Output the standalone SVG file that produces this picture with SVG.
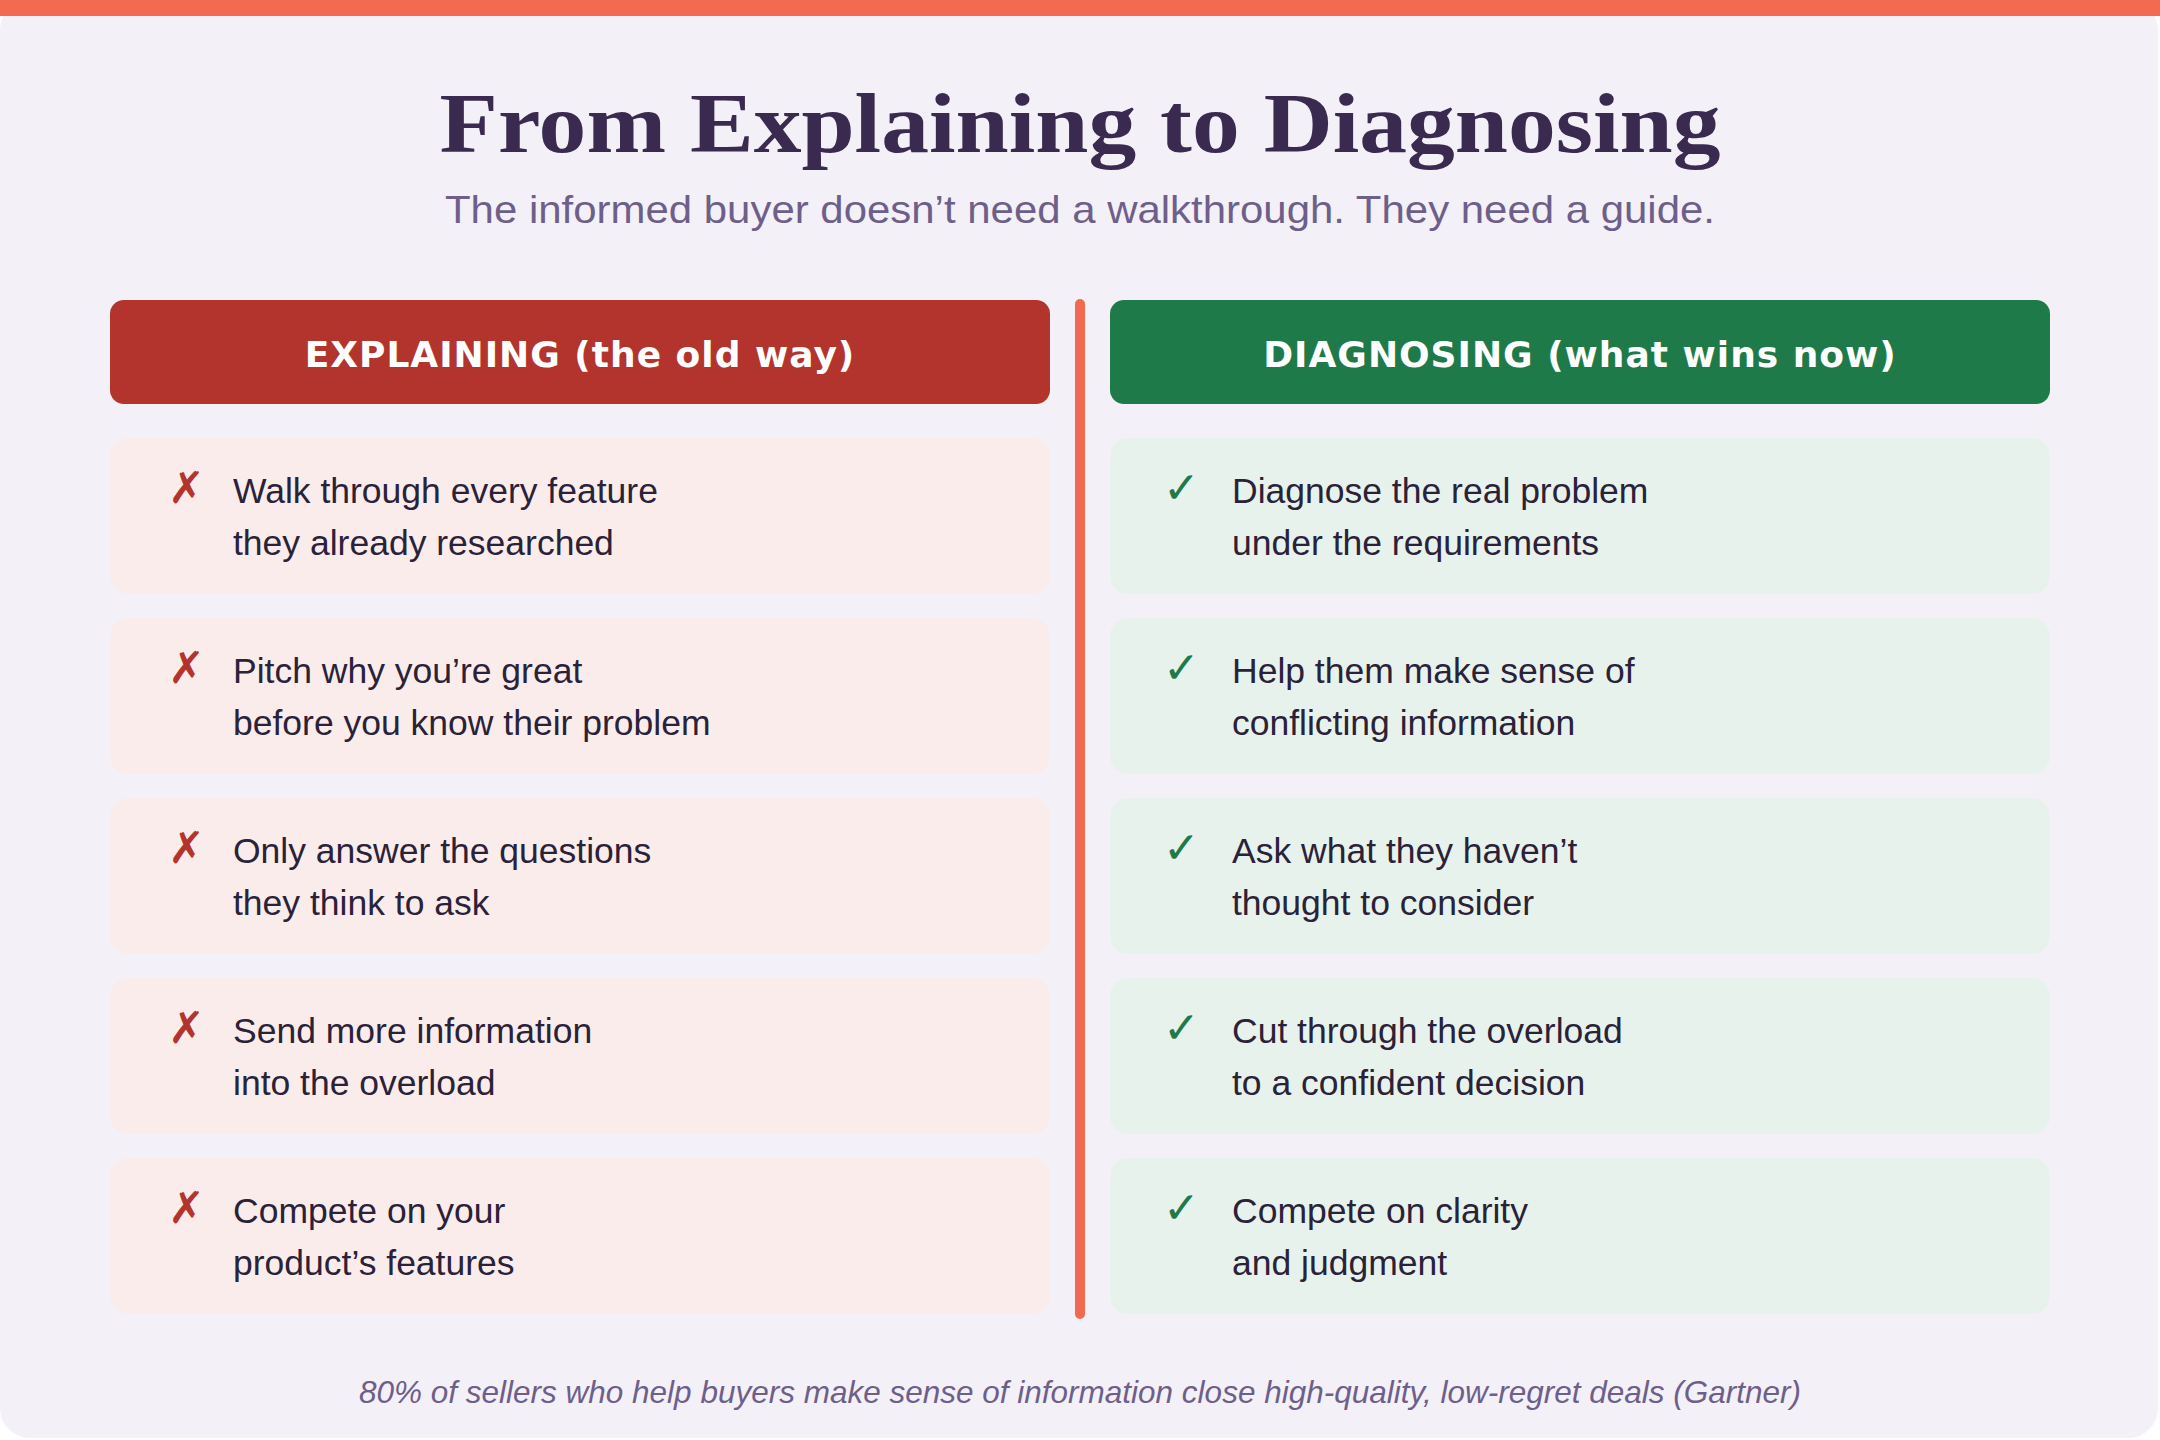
<svg xmlns="http://www.w3.org/2000/svg" width="2160" height="1440" viewBox="0 0 2160 1440">
<style>
.t{font-family:"Liberation Sans",Arial,sans-serif;font-size:35.5px;fill:#2a2238}
.h{font-family:"DejaVu Sans","Liberation Sans",sans-serif;font-size:36px;font-weight:bold;fill:#fff;letter-spacing:1px;text-anchor:middle}
.x{font-family:"Noto Sans","DejaVu Sans",sans-serif;font-size:44px;fill:#b3342d}
.c{font-family:"DejaVu Sans",sans-serif;font-size:44px;fill:#1e7a48;font-weight:bold}
.l{fill:#fbecec}.r{fill:#e8f2ec}
</style>
<rect width="2160" height="1440" fill="#ffffff"/>
<rect x="0" y="0" width="2158" height="1438" rx="30" fill="#f3f0f7"/>
<rect x="0" y="0" width="2160" height="16" fill="#f26b50"/>
<text x="1080" y="152" text-anchor="middle" font-family="Liberation Serif,serif" font-weight="bold" font-size="84" fill="#3a2a50" textLength="1281" lengthAdjust="spacingAndGlyphs">From Explaining to Diagnosing</text>
<text x="1080" y="223" text-anchor="middle" font-family="Liberation Sans,sans-serif" font-size="39" fill="#6e5f8a" textLength="1270" lengthAdjust="spacingAndGlyphs">The informed buyer doesn’t need a walkthrough. They need a guide.</text>
<g id="hdr-left"><rect x="110" y="300" width="940" height="104" rx="14" fill="#b3342d"/><text class="h" x="580" y="367">EXPLAINING (the old way)</text></g>
<g id="hdr-right"><rect x="1110" y="300" width="940" height="104" rx="14" fill="#1e7a48"/><text class="h" x="1580" y="367">DIAGNOSING (what wins now)</text></g>
<g id="connectors"><line x1="1080" y1="304" x2="1080" y2="1314" stroke="#f26b50" stroke-width="10" stroke-linecap="round"/></g>
<g id="l1"><rect class="l" x="110" y="438" width="940" height="156" rx="18"/><text class="x" x="168" y="503">✗</text><text class="t" x="233" y="503">Walk through every feature</text><text class="t" x="233" y="555">they already researched</text></g>
<g id="l2"><rect class="l" x="110" y="618" width="940" height="156" rx="18"/><text class="x" x="168" y="683">✗</text><text class="t" x="233" y="683">Pitch why you’re great</text><text class="t" x="233" y="735">before you know their problem</text></g>
<g id="l3"><rect class="l" x="110" y="798" width="940" height="156" rx="18"/><text class="x" x="168" y="863">✗</text><text class="t" x="233" y="863">Only answer the questions</text><text class="t" x="233" y="915">they think to ask</text></g>
<g id="l4"><rect class="l" x="110" y="978" width="940" height="156" rx="18"/><text class="x" x="168" y="1043">✗</text><text class="t" x="233" y="1043">Send more information</text><text class="t" x="233" y="1095">into the overload</text></g>
<g id="l5"><rect class="l" x="110" y="1158" width="940" height="156" rx="18"/><text class="x" x="168" y="1223">✗</text><text class="t" x="233" y="1223">Compete on your</text><text class="t" x="233" y="1275">product’s features</text></g>
<g id="r1"><rect class="r" x="1110" y="438" width="940" height="156" rx="18"/><text class="c" x="1163" y="503">✓</text><text class="t" x="1232" y="503">Diagnose the real problem</text><text class="t" x="1232" y="555">under the requirements</text></g>
<g id="r2"><rect class="r" x="1110" y="618" width="940" height="156" rx="18"/><text class="c" x="1163" y="683">✓</text><text class="t" x="1232" y="683">Help them make sense of</text><text class="t" x="1232" y="735">conflicting information</text></g>
<g id="r3"><rect class="r" x="1110" y="798" width="940" height="156" rx="18"/><text class="c" x="1163" y="863">✓</text><text class="t" x="1232" y="863">Ask what they haven’t</text><text class="t" x="1232" y="915">thought to consider</text></g>
<g id="r4"><rect class="r" x="1110" y="978" width="940" height="156" rx="18"/><text class="c" x="1163" y="1043">✓</text><text class="t" x="1232" y="1043">Cut through the overload</text><text class="t" x="1232" y="1095">to a confident decision</text></g>
<g id="r5"><rect class="r" x="1110" y="1158" width="940" height="156" rx="18"/><text class="c" x="1163" y="1223">✓</text><text class="t" x="1232" y="1223">Compete on clarity</text><text class="t" x="1232" y="1275">and judgment</text></g>
<text x="1080" y="1403" text-anchor="middle" font-family="Liberation Sans,sans-serif" font-style="italic" font-size="31.5" fill="#6e5f8a">80% of sellers who help buyers make sense of information close high-quality, low-regret deals (Gartner)</text>
</svg>
